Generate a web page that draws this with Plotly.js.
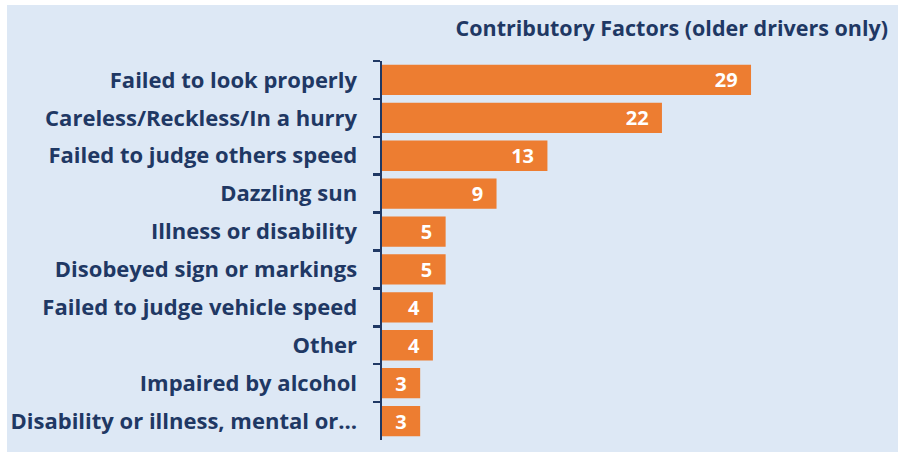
<!DOCTYPE html>
<html>
<head>
<meta charset="utf-8">
<script src="https://cdn.plot.ly/plotly-3.0.1.min.js"></script>
<style>
  html, body { margin: 0; padding: 0; background: #ffffff; width: 906px; height: 461px; overflow: hidden; }
  #chart { position: absolute; left: 7px; top: 5px; width: 891px; height: 447px; }
</style>
</head>
<body>
<div id="chart"></div>
<script>
const categories = [
  "Failed to look properly",
  "Careless/Reckless/In a hurry",
  "Failed to judge others speed",
  "Dazzling sun",
  "Illness or disability",
  "Disobeyed sign or markings",
  "Failed to judge vehicle speed",
  "Other",
  "Impaired by alcohol",
  "Disability or illness, mental or…"
];
const values = [29, 22, 13, 9, 5, 5, 4, 4, 3, 3];
const chartTitle = "Contributory Factors (older drivers only)";

const navy = "#1f3864";
const orange = "#ed7d31";
const bg = "#dde8f5";
const fontFam = "'Open Sans', sans-serif";

const trace = {
  type: "bar",
  orientation: "h",
  x: values,
  y: categories,
  marker: { color: orange, line: { width: 0 } },
  texttemplate: "%{x}\u00a0\u00a0",
  textposition: "inside",
  insidetextanchor: "end",
  textangle: 0,
  constraintext: "none",
  textfont: { family: fontFam, size: 20, color: "#ffffff", weight: "bold" },
  hoverinfo: "skip"
};

const layout = {
  width: 891,
  height: 447,
  paper_bgcolor: bg,
  plot_bgcolor: bg,
  margin: { l: 375, r: 7, t: 56, b: 12 },
  bargap: 0.2,
  showlegend: false,
  title: {
    text: chartTitle,
    font: { family: fontFam, size: 21.5, color: navy, weight: "bold" },
    xref: "container", x: 0.9888, xanchor: "right",
    yref: "container", y: 0.9485, yanchor: "middle"
  },
  xaxis: {
    range: [0, 40],
    visible: false,
    showgrid: false,
    zeroline: false
  },
  yaxis: {
    autorange: "reversed",
    showline: true,
    linecolor: navy,
    linewidth: 2.5,
    ticks: "outside",
    tickson: "boundaries",
    ticklen: 7,
    tickwidth: 2.5,
    tickcolor: navy,
    ticklabelstandoff: 18,
    showgrid: false,
    tickfont: { family: fontFam, size: 22, color: navy, weight: "bold" }
  }
};

Plotly.newPlot("chart", [trace], layout, { displayModeBar: false, staticPlot: true });
</script>
</body>
</html>
